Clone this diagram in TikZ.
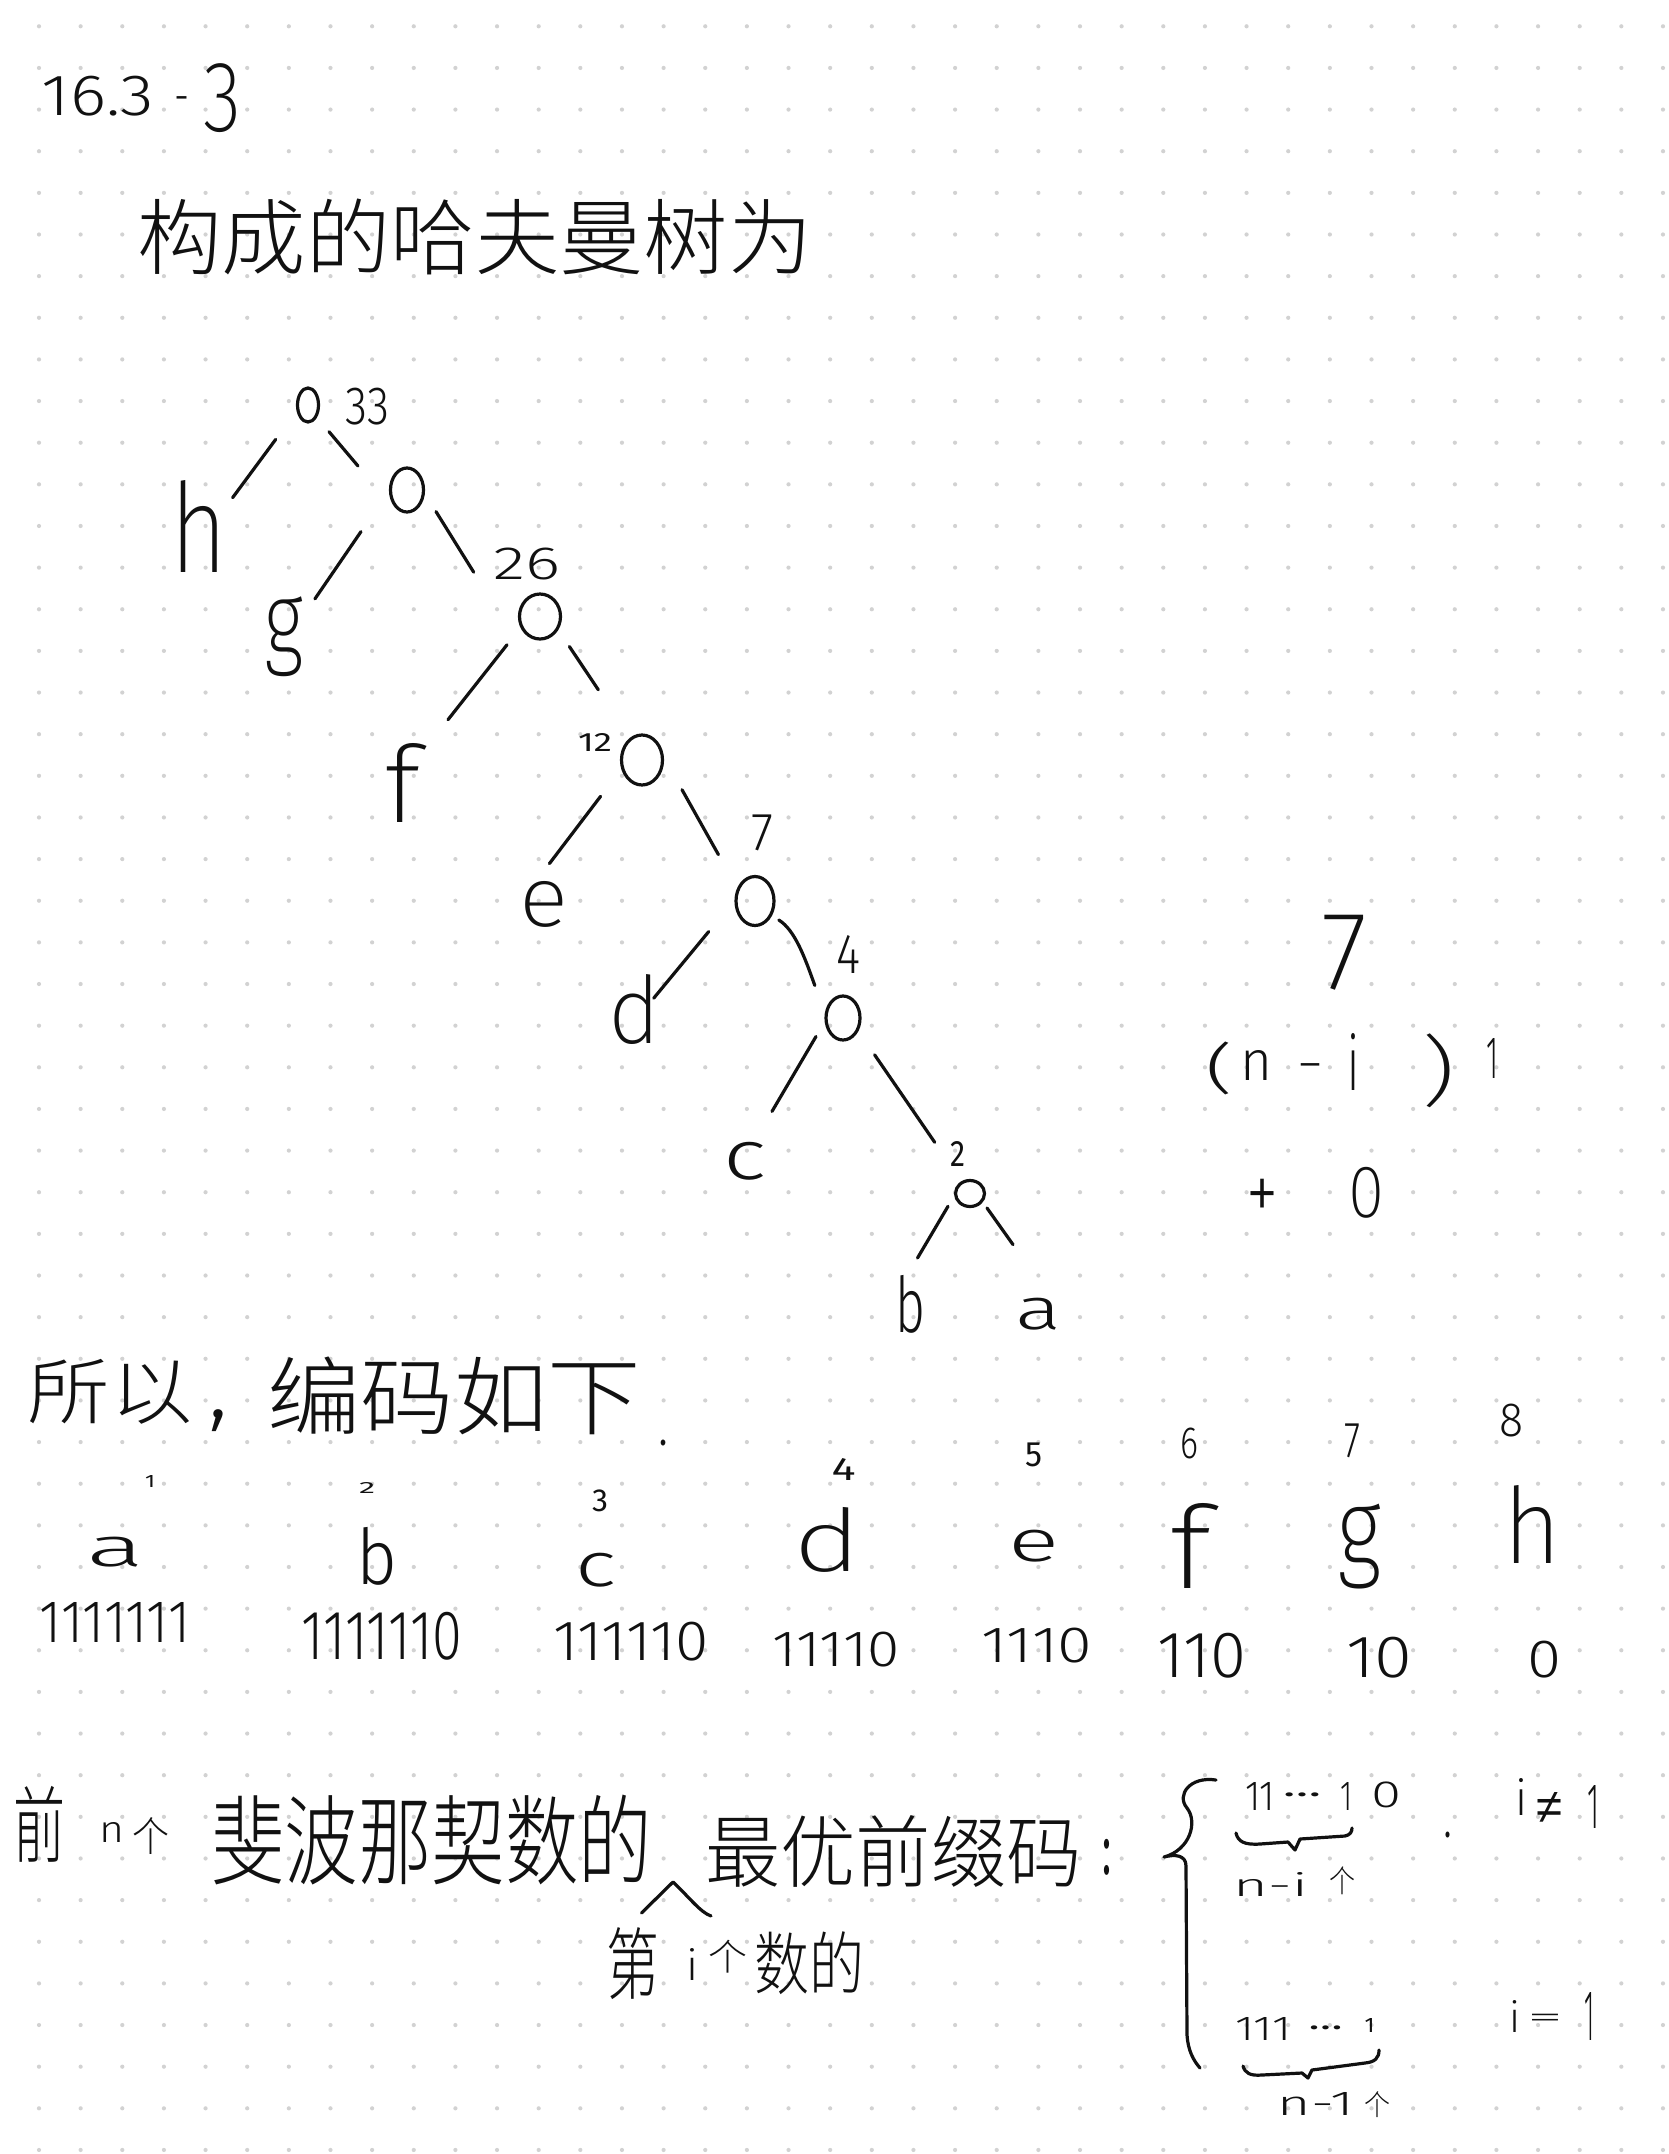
\documentclass[tikz,border=0pt]{standalone}
\usepackage{fontspec}
\usepackage{graphicx}
\setmainfont{Fira Sans}
\newfontfamily\wl{Fira Sans Light}
\IfFontExistsTF{Fira Sans ExtraLight}{\newfontfamily\wx{Fira Sans ExtraLight}}{\newfontfamily\wx{Fira Sans Light}}
\newfontfamily\lib{Liberation Sans}
\IfFontExistsTF{Noto Sans CJK SC Light}{\newfontfamily\cjk{Noto Sans CJK SC Light}}{\newfontfamily\cjk{Noto Sans CJK SC}}
\usetikzlibrary{calc,shapes.geometric}
\definecolor{ink}{HTML}{111111}
\definecolor{dotc}{HTML}{D2D2D2}
\newcommand\fb[3]{\resizebox*{#1pt}{#2pt}{#3}}
\newcommand\hy{\raisebox{-0.23em}[0.08em][0pt]{-}}
\newcommand\eqs{\raisebox{-0.17em}[0.30em][0pt]{=}}
\newcommand\pl{\raisebox{-0.10em}[0.48em][0pt]{+}}
\tikzset{
  t/.style={inner sep=0pt, outer sep=0pt, text=ink},
  pen/.style={draw=ink, line width=3.2pt, line cap=round, line join=round},
  onode/.style={ellipse, draw=ink, line width=3.2pt, inner sep=0pt, outer sep=0pt},
}
\begin{document}
\begin{tikzpicture}[x=1pt,y=-1pt]
\useasboundingbox (0,0) rectangle (1668,2154);
\fill[white] (0,0) rectangle (1668,2154);
% dotted paper
\foreach \i in {0,...,39}{
  \foreach \j in {0,...,51}{
    \fill[dotc] ({39+41.64*\i},{26.3+41.64*\j}) circle[radius=2.1pt];
  }
}
% heading
\node[t] (num) at (98,96) {\fb{112}{40}{\wl 16.3}};
\node[t] (numdash) at (182,99.5) {\fb{15}{4}{\wl\hy}};
\node[t] (numthree) at (223,98.5) {\fb{38}{69}{\wx 3}};
\node[t] (title) at (475,237) {\fb{675}{76}{\cjk 构成的哈夫曼树为}};
% tree: internal nodes
\node[onode, minimum width=21pt, minimum height=34pt] (root) at (308,405) {};
\node[t] (w33) at (367,406.5) {\fb{44}{37}{\wl 33}};
\node[onode, minimum width=33pt, minimum height=44pt] (n1) at (407,490) {};
\node[onode, minimum width=41pt, minimum height=45pt] (n2) at (540,616.5) {};
\node[t] (w26) at (527,564) {\fb{67}{32}{\wl 26}};
\node[onode, minimum width=41pt, minimum height=50pt] (n3) at (642,760) {};
\node[t] (w12) at (595,742) {\fb{34}{18}{12}};
\node[onode, minimum width=38pt, minimum height=49pt] (n4) at (755,901) {};
\node[t] (w7) at (762,833) {\fb{22}{36}{\wl 7}};
\node[onode, minimum width=34pt, minimum height=44pt] (n5) at (843,1018) {};
\node[t] (w4) at (848.5,954) {\fb{24}{38}{\wl 4}};
\node[onode, minimum width=29pt, minimum height=26pt] (n6) at (970,1193.5) {};
\node[t] (w2) at (957.5,1153.5) {\fb{15}{25}{2}};
% tree: leaves
\node[t] (h) at (199,526.4) {\fb{57}{92}{\wx h}};
\node[t] (g) at (284,637) {\fb{39}{80}{\wx g}};
\node[t] (f) at (402.5,782.5) {\fb{36}{79}{\wx f}};
\node[t] (e) at (544.5,904.5) {\fb{49}{46}{\wx e}};
\node[t] (d) at (634.5,1009) {\fb{52}{70}{\wx d}};
\node[t] (c) at (745.5,1161) {\fb{43}{38}{\wl c}};
\node[t] (b) at (910.5,1304) {\fb{30}{58}{\wl b}};
\node[t] (a) at (1038,1314) {\fb{46}{32}{\wl a}};
% tree: edges
\draw[pen] ($(root)+(-32.3,34.4)$) -- ($(h)+(33.6,-28.7)$);
\draw[pen] ($(root)+(21,26.7)$) -- ($(n1)+(-49,-24)$);
\draw[pen] ($(n1)+(-46,41.6)$) -- ($(g)+(30.9,-38.1)$);
\draw[pen] ($(n1)+(29,21.6)$) -- ($(n2)+(-66.3,-44.3)$);
\draw[pen] ($(n2)+(-33,28.3)$) -- ($(f)+(45.5,-62.8)$);
\draw[pen] ($(n2)+(29.4,30)$) -- ($(n3)+(-43.7,-70.2)$);
\draw[pen] ($(n3)+(-41.4,36.3)$) -- ($(e)+(4.9,-40.9)$);
\draw[pen] ($(n3)+(40,29.7)$) -- ($(n4)+(-36.6,-46.4)$);
\draw[pen] ($(n4)+(-46.3,30.6)$) -- ($(d)+(19.2,-10.8)$);
\draw[pen] ($(n4)+(23.8,19)$) .. controls ($(n4)+(40,29)$) and ($(n5)+(-38,-60)$) .. ($(n5)+(-28.2,-32.5)$);
\draw[pen] ($(n5)+(-27,18.5)$) -- ($(c)+(26.5,-49.6)$);
\draw[pen] ($(n5)+(31.6,36.8)$) -- ($(n6)+(-35.3,-51.2)$);
\draw[pen] ($(n6)+(-22,12.8)$) -- ($(b)+(7,-46)$);
\draw[pen] ($(n6)+(17,14.5)$) -- ($(a)+(-25,-69.4)$);
% side note
\node[t] (s7) at (1344,952.5) {\fb{46}{75}{\wx 7}};
\node[t] (slp) at (1219,1068.5) {\fb{28}{53}{\wl (}};
\node[t] (sn) at (1256,1065) {\fb{32}{30}{\wl n}};
\node[t] (sdash) at (1310,1067) {\fb{28}{4}{\wl\hy}};
\node[t] (si) at (1353.5,1061.5) {\fb{12}{57}{\wl i}};
\node[t] (srp) at (1438.5,1071) {\fb{36}{74}{\wx )}};
\node[t] (sone) at (1492.5,1058) {\fb{12}{40}{\wl 1}};
\node[t] (splus) at (1262,1192.5) {\fb{32}{39}{\wl\pl}};
\node[t] (szero) at (1366.5,1192.5) {\fb{36}{51}{\wx 0}};
% so the codes are
\node[t] (so1) at (110,1392) {\fb{165}{65}{\cjk 所以}};
\node[t] (comma) at (219,1421) {\fb{20}{22}{\wl ,}};
\node[t] (so2) at (454,1396) {\fb{374}{78}{\cjk 编码如下}};
\node[t] (stray) at (663,1443) {\fb{8}{6}{.}};
% indices
\node[t] (i1) at (150,1481) {\fb{10}{12}{1}};
\node[t] (i2) at (367,1487.5) {\fb{16}{11}{2}};
\node[t] (i3) at (600,1501) {\fb{16}{22}{3}};
\node[t] (i4) at (843.5,1469) {\fb{24}{22}{4}};
\node[t] (i5) at (1034,1455) {\fb{17}{24}{5}};
\node[t] (i6) at (1189,1443) {\fb{18}{31}{\wl 6}};
\node[t] (i7) at (1352,1441) {\fb{16}{34}{\wl 7}};
\node[t] (i8) at (1511,1421) {\fb{24}{33}{\wl 8}};
% letters
\node[t] (la) at (116,1552) {\fb{58}{30}{\wl a}};
\node[t] (lb) at (377,1556) {\fb{41}{58}{\wl b}};
\node[t] (lc) at (596,1570) {\fb{41}{34}{\wl c}};
\node[t] (ld) at (828,1540) {\fb{68}{65}{\wx d}};
\node[t] (le) at (1034,1546) {\fb{51}{32}{\wl e}};
\node[t] (lf) at (1191,1546) {\fb{42}{85}{\wx f}};
\node[t] (lg) at (1359,1547) {\fb{44}{85}{\wx g}};
\node[t] (lh) at (1532,1524) {\fb{58}{78}{\wx h}};
% codes
\node[t] (ca) at (115,1622) {\fb{150}{40}{\wl 1111111}};
\node[t] (cb) at (382,1636) {\fb{160}{48}{\wl 1111110}};
\node[t] (cc) at (631,1642) {\fb{155}{39}{\wl 111110}};
\node[t] (cd) at (836,1650) {\fb{127}{35}{\wl 11110}};
\node[t] (ce) at (1037,1646) {\fb{111}{35}{\wl 1110}};
\node[t] (cf) at (1202,1656) {\fb{89}{45}{\wl 110}};
\node[t] (cg) at (1379,1658) {\fb{66}{41}{\wl 10}};
\node[t] (ch) at (1544,1660) {\fb{34}{37}{\wl 0}};
% Fibonacci line
\node[t] (q1) at (39,1824) {\fb{52}{76}{\cjk 前}};
\node[t] (q2) at (111.5,1832) {\fb{25}{20}{\wl n}};
\node[t] (q3) at (150.5,1835.5) {\fb{37}{37}{\cjk 个}};
\node[t] (q4) at (431.5,1840) {\fb{441}{90}{\cjk 斐波那契数的}};
\node[t] (q5) at (893.5,1851) {\fb{377}{72}{\cjk 最优前缀码}};
\node[t] (q6) at (1107,1857) {\fb{9}{36}{:}};
\draw[pen] (641.5,1913) -- (673,1882) .. controls (690,1898) and (700,1912) .. (711,1916);
\node[t] (r1) at (632.5,1964) {\fb{53}{72}{\cjk 第}};
\node[t] (r2) at (692.5,1964) {\fb{12}{32}{\wl i}};
\node[t] (r3) at (727.5,1956.5) {\fb{39}{33}{\cjk 个}};
\node[t] (r4) at (809,1963.5) {\fb{110}{63}{\cjk 数的}};
% cases brace
\draw[pen] (1216,1780) .. controls (1190,1776) and (1176,1795) .. (1187,1808)
  .. controls (1198,1822) and (1190,1850) .. (1164,1857)
  .. controls (1175,1854) and (1186,1855) .. (1186,1866)
  -- (1187,2035) .. controls (1188,2050) and (1193,2060) .. (1200,2068);
% first case
\node[t] (k1) at (1260,1796) {\fb{30}{28}{\wl 11}};
\node[t] (k2) at (1302,1795) {\fb{38}{4}{…}};
\node[t] (k3) at (1346,1796) {\fb{12}{28}{\wl 1}};
\node[t] (k4) at (1386.5,1795) {\fb{30}{26}{\wl 0}};
\draw[pen] (1236,1833) .. controls (1238,1842) and (1245,1845) .. (1260,1844)
  -- (1288,1842) -- (1295,1850) -- (1300,1839) -- (1345,1836)
  .. controls (1350,1835) and (1352,1832) .. (1352,1828);
\node[t] (k5) at (1270.5,1884) {\fb{75}{24}{\wl n-i}};
\node[t] (k6) at (1342.5,1881) {\fb{26}{28}{\cjk 个}};
\node[t] (k7) at (1448,1835) {\fb{7}{6}{.}};
\node[t] (k8) at (1521.5,1796.5) {\fb{12}{37}{\wl i}};
\node[t] (k9) at (1549.5,1807.5) {\fb{26}{31}{\lib ≠}};
\node[t] (k10) at (1593,1806.5) {\fb{12}{43}{\wl 1}};
% second case
\node[t] (m1) at (1263,2028.5) {\fb{56}{23}{\wl 111}};
\node[t] (m2) at (1325.5,2028) {\fb{34}{4}{…}};
\node[t] (m3) at (1369.5,2025) {\fb{10}{14}{1}};
\draw[pen] (1243,2066) .. controls (1245,2073) and (1250,2076) .. (1262,2075)
  -- (1302,2073) -- (1308,2078) -- (1312,2070) -- (1365,2063)
  .. controls (1375,2062) and (1379,2058) .. (1379,2050);
\node[t] (m4) at (1316,2103.5) {\fb{76}{23}{\wl n-1}};
\node[t] (m5) at (1377,2105) {\fb{26}{26}{\cjk 个}};
\node[t] (m6) at (1514.5,2016) {\fb{11}{32}{\wl i}};
\node[t] (m7) at (1545,2017.5) {\fb{36}{9}{\wl\eqs}};
\node[t] (m8) at (1589.5,2016) {\fb{10}{48}{\wl 1}};
\end{tikzpicture}
\end{document}
